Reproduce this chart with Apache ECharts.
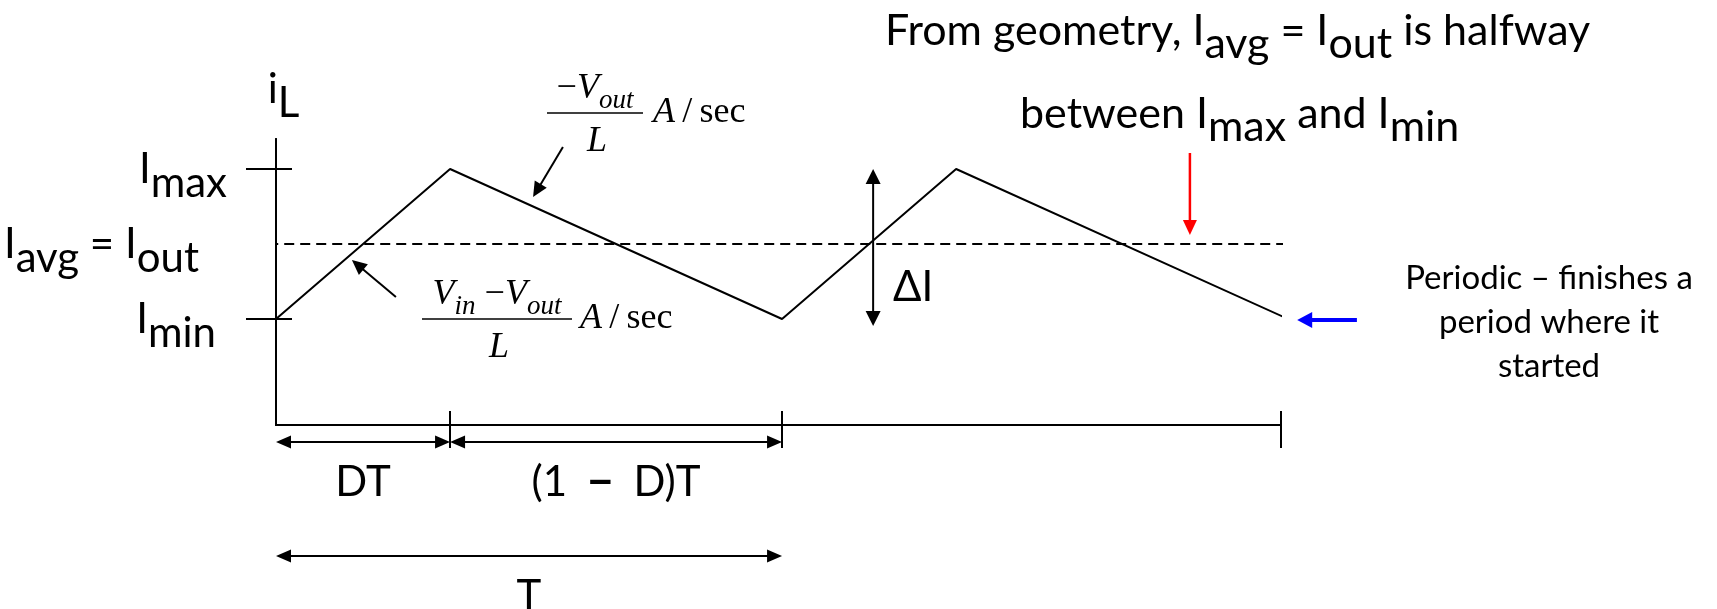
<!DOCTYPE html>
<html>
<head>
<meta charset="utf-8">
<script src="https://cdn.jsdelivr.net/npm/echarts@6/dist/echarts.min.js"></script>
<style>
  html, body { margin: 0; padding: 0; background: #ffffff; }
  #chart { width: 1717px; height: 609px; }
</style>
</head>
<body>
<div id="chart"></div>
<script>
// Inductor current of a buck converter over two switching periods.
// Time is in units of the period T, current in arbitrary units.
const dutyCycle = 0.344;   // D
const period = 1;          // T
const iMin = 1.06;
const iMax = 2.56;
const iAvg = (iMax + iMin) / 2;
const yTop = 2.86;
const xEnd = 1.986;

// Triangular ripple: rises during DT, falls during (1 - D)T
const waveTimes = [0, dutyCycle, period, period + dutyCycle, 2 * period];
const waveCurrents = [iMin, iMax, iMin, iMax, iMin];

// Horizontal extent of the average-current reference line
const avgLineSpan = [-0.047, 1.99];

// Axis ticks and labels
const yTickValues = [iMin, iAvg, iMax];
const yTickLabels = ['{m|I}{sMin|min}', '{m|I}{s|avg}{m| = I}{sAvg|out}', '{m|I}{s|max}'];
const yMarkValues = [iMin, iMax];
const xMarkValues = [dutyCycle, period, xEnd];

// Dimension arrows below the time axis: [x1, y1, x2, y2]
const spanArrows = [
  [0, -0.17, dutyCycle, -0.17],
  [dutyCycle, -0.17, period, -0.17],
  [0, -1.31, period, -1.31]
];
const spanLabels = ['DT', '(1 {d|\u2212} D)T', 'T'];

// Peak-to-peak ripple arrow
const rippleArrows = [[1.18, iMax, 1.18, iMin - 0.07]];

// Pointers to the rising / falling slopes
const slopePointers = [
  [0.567, 2.78, 0.508, 2.28],
  [0.237, 1.28, 0.150, 1.65]
];
// Pointer to the average line and to the end of the second period
const avgPointers = [[1.806, 2.72, 1.806, 1.90]];
const endPointers = [[2.136, 1.05, 2.018, 1.05]];

const SANS = 'Lato';
const SERIF = 'Liberation Serif';

// Text with lowered subscripts (same size as the main text)
function subRich(size, drop, extra) {
  const r = {
    m: { fontFamily: SANS, fontSize: size, color: '#000', lineHeight: size + 2 * drop, verticalAlign: 'middle' },
    s: { fontFamily: SANS, fontSize: size, color: '#000', lineHeight: size, verticalAlign: 'bottom' }
  };
  if (extra) Object.keys(extra).forEach(k => {
    r[k] = Object.assign({}, r.s, extra[k]);
  });
  return r;
}

const labelRich = subRich(42, 14, {
  sAvg: { padding: [0, 28, 0, 0] },
  sMin: { padding: [0, 11, 0, 0] }
});
const nameRich = subRich(42, 14);
const noteRich = subRich(43, 13);
const spanRich = {
  d: { fontFamily: SANS, fontSize: 46, fontWeight: 'bold', color: '#000', padding: [0, 9, 0, 9] }
};

// Math-style rich text for slope formulas
const mathRich = {
  v: { fontFamily: SERIF, fontStyle: 'italic', fontSize: 36, color: '#000', lineHeight: 50, verticalAlign: 'middle' },
  op: { fontFamily: SERIF, fontSize: 36, color: '#000', lineHeight: 50, verticalAlign: 'middle' },
  u: { fontFamily: SERIF, fontSize: 36, color: '#000', lineHeight: 50, verticalAlign: 'middle' },
  s: { fontFamily: SERIF, fontStyle: 'italic', fontSize: 27, color: '#000', lineHeight: 27, verticalAlign: 'bottom' }
};

function fraction(barX1, barX2, barY, numerator, unitX) {
  const cx = (barX1 + barX2) / 2;
  return {
    type: 'group',
    children: [
      { type: 'line', shape: { x1: barX1, y1: barY, x2: barX2, y2: barY },
        style: { stroke: '#000', lineWidth: 1.5 } },
      { type: 'text', x: cx, y: barY - 24,
        style: { text: numerator, rich: mathRich, align: 'center', verticalAlign: 'middle' } },
      { type: 'text', x: cx + 2, y: barY + 29,
        style: { text: '{v|L}', rich: mathRich, align: 'center', verticalAlign: 'middle' } },
      { type: 'text', x: unitX, y: barY,
        style: { text: '{v|A}{u|\u2009/\u2009sec}', rich: mathRich, align: 'left', verticalAlign: 'middle' } }
    ]
  };
}

// Arrow drawn in data coordinates; head tip lands exactly on the end point
function arrowRenderer(cfg) {
  return function (params, api) {
    const a = api.coord([api.value(0), api.value(1)]);
    const b = api.coord([api.value(2), api.value(3)]);
    const dx = b[0] - a[0], dy = b[1] - a[1];
    const len = Math.hypot(dx, dy) || 1;
    const ux = dx / len, uy = dy / len;
    const hl = cfg.headLen, hw = cfg.headWidth / 2;
    const head = (tip, sx, sy) => ({
      type: 'polygon',
      shape: { points: [
        [tip[0], tip[1]],
        [tip[0] - sx * hl - sy * hw, tip[1] - sy * hl + sx * hw],
        [tip[0] - sx * hl + sy * hw, tip[1] - sy * hl - sx * hw]
      ] },
      style: { fill: cfg.color }
    });
    const start = cfg.both ? [a[0] + ux * hl * 0.8, a[1] + uy * hl * 0.8] : a;
    const end = [b[0] - ux * hl * 0.8, b[1] - uy * hl * 0.8];
    const children = [
      { type: 'line', shape: { x1: start[0], y1: start[1], x2: end[0], y2: end[1] },
        style: { stroke: cfg.color, lineWidth: cfg.width } },
      head(b, ux, uy)
    ];
    if (cfg.both) children.push(head(a, -ux, -uy));
    if (cfg.labels) {
      children.push({
        type: 'text',
        x: (a[0] + b[0]) / 2,
        y: (a[1] + b[1]) / 2 + cfg.labelGap,
        style: { text: cfg.labels[params.dataIndex], rich: spanRich, fontFamily: SANS, fontSize: 42, fill: '#000',
                 align: 'center', verticalAlign: 'middle' }
      });
    }
    return { type: 'group', children };
  };
}

function arrowSeries(data, cfg) {
  return {
    type: 'custom',
    silent: true,
    clip: false,
    data: data,
    renderItem: arrowRenderer(cfg)
  };
}

const chart = echarts.init(document.getElementById('chart'), null, { renderer: 'canvas' });

const axisLineStyle = { color: '#000', width: 2 };

chart.setOption({
  animation: false,
  backgroundColor: '#ffffff',
  grid: { left: 276, right: 436, top: 139, bottom: 184, containLabel: false, outerBoundsMode: 'none' },
  xAxis: [
    {
      type: 'value', min: 0, max: xEnd, position: 'bottom',
      axisLine: { show: true, onZero: false, lineStyle: axisLineStyle },
      axisTick: { show: true, customValues: xMarkValues, length: 23, lineStyle: axisLineStyle },
      axisLabel: { show: false },
      splitLine: { show: false }
    },
    {
      type: 'value', min: 0, max: xEnd, position: 'bottom',
      axisLine: { show: true, onZero: false, lineStyle: axisLineStyle },
      axisTick: { show: true, inside: true, customValues: xMarkValues, length: 14, lineStyle: axisLineStyle },
      axisLabel: { show: false },
      splitLine: { show: false }
    }
  ],
  yAxis: [
    {
      type: 'value', min: 0, max: yTop, position: 'left',
      name: '{m|i}{s|L}',
      nameLocation: 'end',
      nameGap: 50,
      nameTextStyle: { align: 'center', verticalAlign: 'middle', padding: [0, 0, 0, 15], rich: nameRich },
      axisLine: { show: true, onZero: false, lineStyle: axisLineStyle },
      axisTick: { show: true, customValues: yMarkValues, length: 30, lineStyle: axisLineStyle },
      axisLabel: {
        show: true,
        customValues: yTickValues,
        margin: 49,
        rich: labelRich,
        formatter: function (v) {
          let best = 0;
          yTickValues.forEach((t, i) => { if (Math.abs(t - v) < Math.abs(yTickValues[best] - v)) best = i; });
          return yTickLabels[best];
        }
      },
      splitLine: { show: false }
    },
    {
      type: 'value', min: 0, max: yTop, position: 'left',
      axisLine: { show: true, onZero: false, lineStyle: axisLineStyle },
      axisTick: { show: true, inside: true, customValues: yMarkValues, length: 16, lineStyle: axisLineStyle },
      axisLabel: { show: false },
      splitLine: { show: false }
    }
  ],
  series: [
    {
      name: 'iL',
      type: 'line',
      silent: true,
      clip: false,
      symbol: 'none',
      data: waveTimes.map((t, i) => [t, waveCurrents[i]]),
      lineStyle: { color: '#000', width: 2 }
    },
    {
      name: 'Iavg',
      type: 'line',
      silent: true,
      clip: false,
      symbol: 'none',
      data: avgLineSpan.map(t => [t, iAvg]),
      lineStyle: { color: '#000', width: 1.8, type: [10, 6] }
    },
    arrowSeries(spanArrows, { color: '#000', width: 2, headLen: 15, headWidth: 13, both: true, labels: spanLabels, labelGap: 40 }),
    arrowSeries(rippleArrows, { color: '#000', width: 2, headLen: 15, headWidth: 15, both: true }),
    arrowSeries(slopePointers, { color: '#000', width: 2, headLen: 15, headWidth: 14, both: false }),
    arrowSeries(avgPointers, { color: '#ff0000', width: 2.5, headLen: 15, headWidth: 14, both: false }),
    arrowSeries(endPointers, { color: '#0000ff', width: 4, headLen: 15, headWidth: 16, both: false })
  ],
  graphic: [
    { type: 'text', x: 885, y: 31,
      style: { text: '{m|From geometry, I}{s|avg}{m| = I}{s|out}{m| is halfway}', rich: noteRich,
               align: 'left', verticalAlign: 'middle' } },
    { type: 'text', x: 1020, y: 114,
      style: { text: '{m|between I}{s|max}{m| and I}{s|min}', rich: noteRich,
               align: 'left', verticalAlign: 'middle' } },
    { type: 'text', x: 893, y: 287,
      style: { text: '\u0394I', fontFamily: SANS, fontSize: 42, fill: '#000',
               align: 'left', verticalAlign: 'middle' } },
    { type: 'text', x: 1549, y: 322,
      style: { text: 'Periodic \u2013 finishes a\nperiod where it\nstarted', fontFamily: SANS, fontSize: 33,
               lineHeight: 44, fill: '#000', align: 'center', verticalAlign: 'middle' } },
    fraction(547, 643, 113, '{op|\u2212}{v|V}{s|out}', 653),
    fraction(422, 572, 319, '{v|V}{s|in}{op| \u2212}{v|V}{s|out}', 580)
  ]
});
</script>
</body>
</html>
